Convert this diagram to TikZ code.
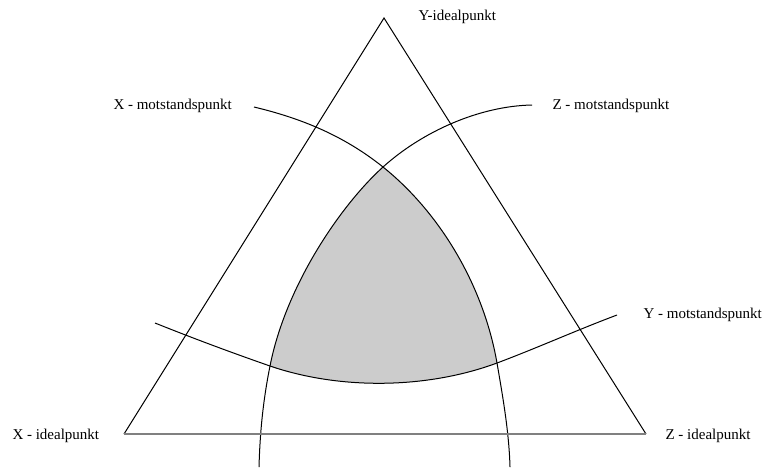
\documentclass[tikz,border=0pt]{standalone}
\usepackage{fontspec}
\setmainfont{Liberation Serif}
\begin{document}
\begin{tikzpicture}[x=0.5pt, y=-0.5pt, line width=0.5pt,
    lbl/.style={inner sep=0pt, anchor=west, font=\fontsize{7.5}{9}\selectfont}]
    \useasboundingbox (0,0) rectangle (764,468);

    \coordinate (Ytop) at (384,18);
    \coordinate (Xbot) at (124,434);
    \coordinate (Zbot) at (646,434);

    \coordinate (Xstart) at (254,107);
    \coordinate (Xend) at (510,467);
    \coordinate (Zstart) at (532,105);
    \coordinate (Zend) at (259,467);
    \coordinate (Ystart) at (155,323);
    \coordinate (Yend) at (617,315);

    \coordinate (XZ) at (383,167);
    \coordinate (XY) at (497,363);
    \coordinate (ZY) at (270,366);

    \fill[black!20] (XZ) .. controls (438,211) and (483,283) .. (XY)
        .. controls (427,389) and (340,390) .. (ZY)
        .. controls (286,285) and (341,205) .. (XZ) -- cycle;

    \draw (Xstart) .. controls (300,118) and (343,135) .. (XZ)
        .. controls (438,211) and (483,283) .. (XY)
        .. controls (503,398) and (509,432) .. (Xend);
    \draw (Zstart) .. controls (480,106) and (423,131) .. (XZ)
        .. controls (341,205) and (286,285) .. (ZY)
        .. controls (263,401) and (260,432) .. (Zend);
    \draw (Ystart) .. controls (195,339) and (230,352) .. (ZY)
        .. controls (340,390) and (427,389) .. (XY)
        .. controls (537,348) and (577,330) .. (Yend);

    \draw (Xbot) -- (Ytop) -- (Zbot);
    \draw[black!50, line width=1pt] (Xbot) -- (Zbot);

    \node[lbl] (yideal) at (418,17) {Y-idealpunkt};
    \node[lbl] (xmot) at (113,106) {X - motstandspunkt};
    \node[lbl] (zmot) at (552,106) {Z - motstandspunkt};
    \node[lbl] (ymot) at (643,315) {Y - motstandspunkt};
    \node[lbl] (xideal) at (12,436) {X - idealpunkt};
    \node[lbl] (zideal) at (665,436) {Z - idealpunkt};
\end{tikzpicture}
\end{document}
